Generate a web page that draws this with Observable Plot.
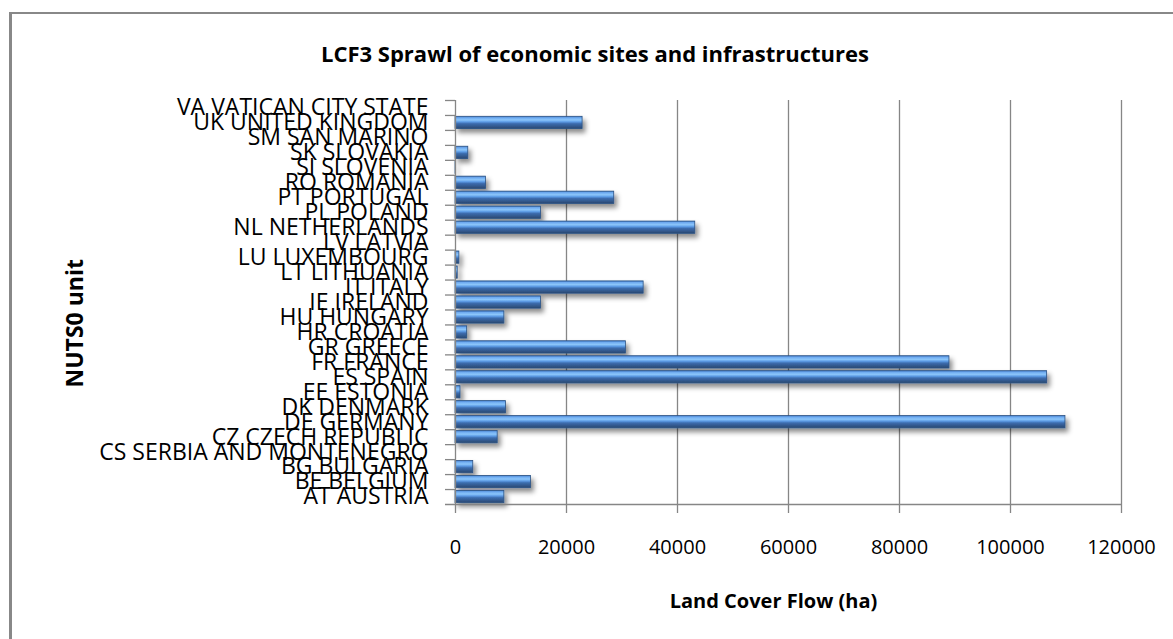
<!DOCTYPE html>
<html><head><meta charset="utf-8">
<script src="https://cdn.jsdelivr.net/npm/d3@7"></script>
<script src="https://cdn.jsdelivr.net/npm/@observablehq/plot@0.6"></script>
<style>
body{margin:0;background:#fff;}
#wrap{position:relative;width:1173px;height:639px;overflow:hidden;font-family:"Open Sans",sans-serif;}
#frame{position:absolute;left:9px;top:12px;width:1300px;height:800px;border-left:3px solid #888;border-top:2px solid #888;box-sizing:border-box;pointer-events:none}
#title{width:1190px;height:78px;box-sizing:border-box;padding-top:41px;text-align:center;font-weight:bold;font-size:22px;line-height:24px;color:#000}
#chart svg{display:block}
</style></head>
<body><div id="wrap"><div id="frame"></div><div id="title">LCF3 Sprawl of economic sites and infrastructures</div><div id="chart"></div></div>
<script>
const categories = ["AT AUSTRIA","BE BELGIUM","BG BULGARIA","CS SERBIA AND MONTENEGRO","CZ CZECH REPUBLIC","DE GERMANY","DK DENMARK","EE ESTONIA","ES SPAIN","FR FRANCE","GR GREECE","HR CROATIA","HU HUNGARY","IE IRELAND","IT ITALY","LT LITHUANIA","LU LUXEMBOURG","LV LATVIA","NL NETHERLANDS","PL POLAND","PT PORTUGAL","RO ROMANIA","SI SLOVENIA","SK SLOVAKIA","SM SAN MARINO","UK UNITED KINGDOM","VA VATICAN CITY STATE"];
const values = [8800,13600,3200,0,7600,109900,9100,900,106600,89000,30700,2100,8800,15400,33900,400,700,0,43200,15400,28600,5500,100,2300,0,22900,0];
const xTicks = [0,20000,40000,60000,80000,100000,120000];
const xLabel = "Land Cover Flow (ha)";
const yLabel = "NUTS0 unit";

const data = categories.map((c,i)=>({c, v: values[i]}));
const W=1173, H=561, mt=22, mb=135, ml=455, mr=52;
const step = (H-mt-mb)/categories.length;
const grey = "#868686";

const chart = Plot.plot({
  width:W, height:H, marginTop:mt, marginBottom:mb, marginLeft:ml, marginRight:mr,
  style:{fontFamily:"'Open Sans', sans-serif", fontSize:"20px", color:"#000", background:"transparent", overflow:"visible"},
  x:{domain:[0,120000]},
  y:{domain: categories.slice().reverse(), paddingInner:0.18, paddingOuter:0.09, round:false},
  marks:[
    Plot.ruleX(xTicks.slice(1), {stroke:grey, strokeWidth:1.3}),
    Plot.barX(data, {y:"c", x:"v", fill:"url(#barGrad)", stroke:"#2b5283", strokeWidth:0.8}),
    Plot.ruleX([0], {stroke:grey, strokeWidth:1.3}),
    Plot.ruleY([categories[0]], {y:d=>d, dy:step/2, x1:0, x2:120000, insetLeft:-10, stroke:grey, strokeWidth:1.5}),
    Plot.axisY({tickSize:0, tickPadding:27, fontSize:23, label:null, fill:"#000"}),
    Plot.axisY({text:null, tickSize:10, dy:-step/2, stroke:grey, strokeWidth:1.3, label:null}),
    Plot.axisX({ticks:xTicks, tickSize:9, tickPadding:26, tickFormat:d=>String(d), fontSize:20, label:null, stroke:grey, strokeWidth:1.3, fill:"#000"}),
    Plot.text([xLabel], {text:d=>d, frameAnchor:"bottom", dx:-15, dy:103, fontWeight:"bold", fontSize:20, fill:"#000"}),
    Plot.text([yLabel], {text:d=>d, frameAnchor:"left", dx:-380, dy:85, rotate:-90, fontWeight:"bold", fontSize:23, fill:"#000"})
  ]
});
document.getElementById("chart").appendChild(chart);

const svg = d3.select(chart);
const defs = svg.insert("defs", ":first-child");
const g = defs.append("linearGradient").attr("id","barGrad").attr("x1",0).attr("y1",0).attr("x2",0).attr("y2",1);
[[0,"#3d77c4"],[0.12,"#6eaaf0"],[0.3,"#8cc6fa"],[0.45,"#5d9ce6"],[0.6,"#3c6cae"],[1,"#2a4870"]].forEach(([o,c])=>g.append("stop").attr("offset",o).attr("stop-color",c));
const f = defs.append("filter").attr("id","shadow").attr("x","-10%").attr("y","-60%").attr("width","130%").attr("height","260%");
f.append("feDropShadow").attr("dx",3).attr("dy",4).attr("stdDeviation",2.5).attr("flood-color","#000").attr("flood-opacity",0.45);
svg.selectAll('g[fill="url(#barGrad)"]').attr("filter","url(#shadow)");
</script>
</body></html>
